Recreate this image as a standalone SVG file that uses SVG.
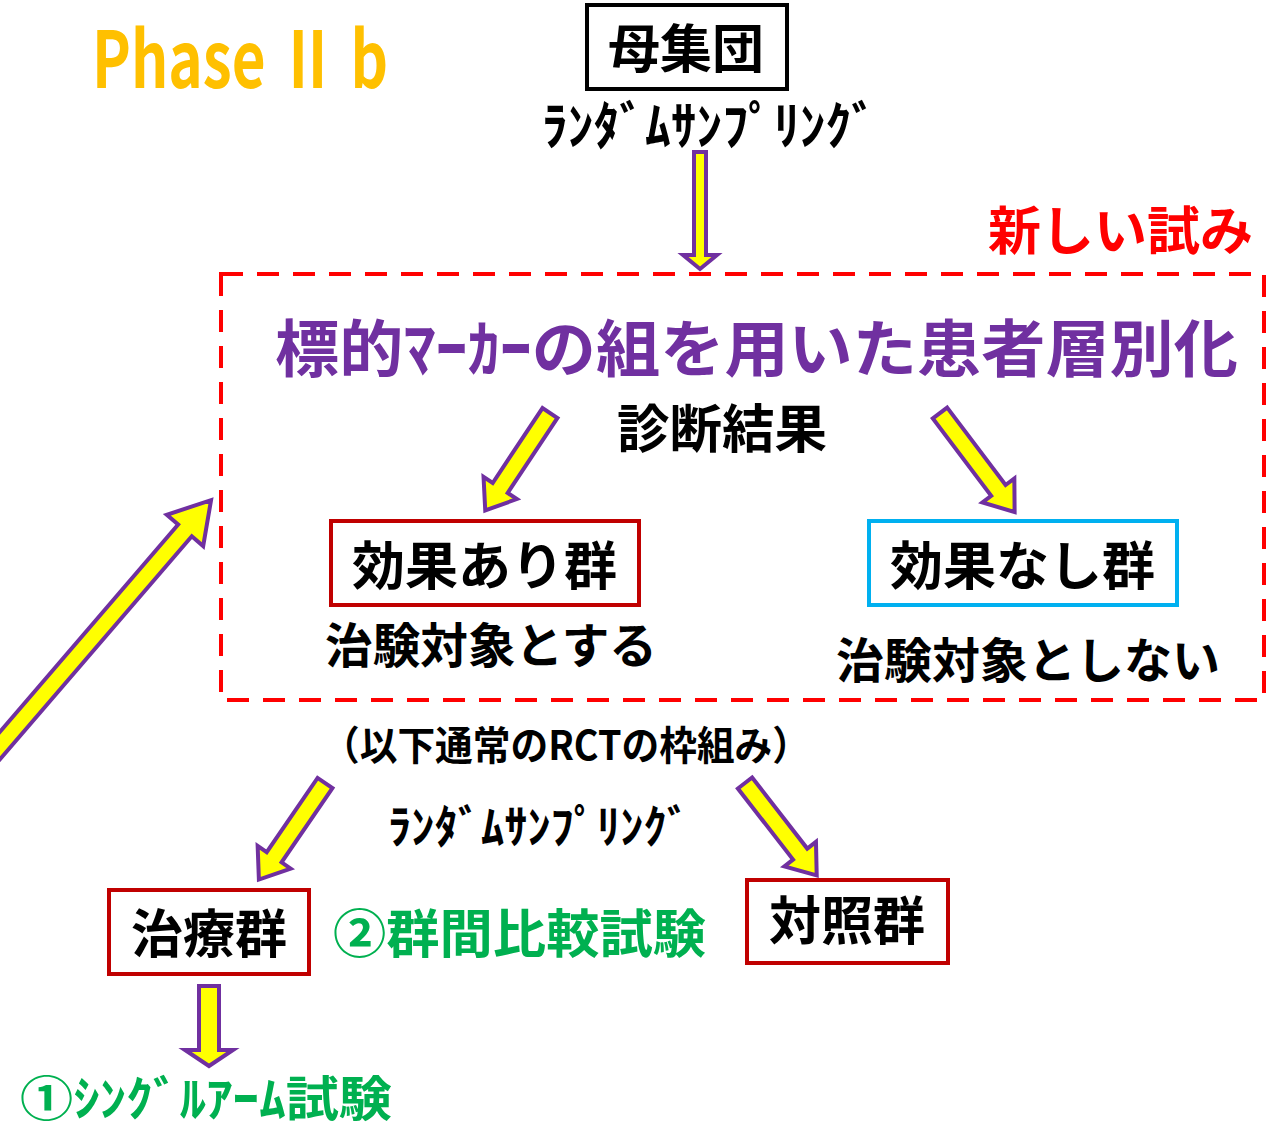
<svg xmlns="http://www.w3.org/2000/svg" width="1286" height="1130" viewBox="0 0 1286 1130">
<style>
.t{font-family:"Noto Sans CJK JP","Liberation Sans",sans-serif;font-weight:700}
.blk{fill:#000}
.box{fill:#fff;stroke-width:4}
.arr{fill:#ffff00;stroke:#7030a0;stroke-width:4;stroke-linejoin:miter}
</style>
<rect width="1286" height="1130" fill="#fff"/>
<g id="phase"><text x="92" y="88" font-family="'Noto Sans CJK JP','Liberation Sans',sans-serif" font-weight="700" font-size="78" fill="#ffc000" textLength="296" lengthAdjust="spacingAndGlyphs">Phase Ⅱ b</text></g>
<g id="frame">
<rect x="221" y="274" width="1043" height="426" fill="none" stroke="#ff0000" stroke-width="4" stroke-dasharray="22,14"/>
</g>
<g id="new-trial"><text class="t" x="988" y="250" font-size="52" fill="#ff0000" textLength="265" lengthAdjust="spacingAndGlyphs">新しい試み</text></g>
<g id="population">
<rect class="box" x="587" y="5" width="200" height="84" stroke="#000"/>
<text class="t blk" x="686" y="68" font-size="52" text-anchor="middle">母集団</text>
</g>
<g id="sampling1"><text class="t blk" x="542" y="145" font-size="52" textLength="335" lengthAdjust="spacingAndGlyphs">ﾗﾝﾀﾞﾑｻﾝﾌﾟﾘﾝｸﾞ</text></g>
<g id="title"><text class="t" x="275" y="372" font-size="62" fill="#7030a0" textLength="963" lengthAdjust="spacingAndGlyphs">標的ﾏｰｶｰの組を用いた患者層別化</text></g>
<g id="diagnosis"><text class="t blk" x="617" y="448" font-size="52" textLength="210" lengthAdjust="spacingAndGlyphs">診断結果</text></g>
<g id="effective">
<rect class="box" x="331" y="521" width="308" height="84" stroke="#c00000"/>
<text class="t blk" x="352" y="585" font-size="52" textLength="265" lengthAdjust="spacingAndGlyphs">効果あり群</text>
<text class="t blk" x="325" y="663" font-size="48" textLength="332" lengthAdjust="spacingAndGlyphs">治験対象とする</text>
</g>
<g id="ineffective">
<rect class="box" x="869" y="521" width="308" height="84" stroke="#00b0f0"/>
<text class="t blk" x="890" y="585" font-size="52" textLength="265" lengthAdjust="spacingAndGlyphs">効果なし群</text>
<text class="t blk" x="836" y="678" font-size="48" textLength="384" lengthAdjust="spacingAndGlyphs">治験対象としない</text>
</g>
<g id="rct"><text class="t blk" x="322" y="760" font-size="40" textLength="488" lengthAdjust="spacingAndGlyphs">（以下通常のRCTの枠組み）</text></g>
<g id="sampling2"><text class="t blk" x="388" y="843" font-size="46" textLength="302" lengthAdjust="spacingAndGlyphs">ﾗﾝﾀﾞﾑｻﾝﾌﾟﾘﾝｸﾞ</text></g>
<g id="treatment">
<rect class="box" x="109" y="890" width="200" height="84" stroke="#c00000"/>
<text class="t blk" x="209" y="953" font-size="52" text-anchor="middle">治療群</text>
</g>
<g id="between"><text class="t" x="333" y="953" font-size="52" fill="#00b050" textLength="373" lengthAdjust="spacingAndGlyphs">②群間比較試験</text></g>
<g id="control">
<rect class="box" x="747" y="880" width="201" height="83" stroke="#c00000"/>
<text class="t blk" x="847" y="940" font-size="52" text-anchor="middle">対照群</text>
</g>
<g id="single"><text class="t" x="20" y="1116" font-size="48" fill="#00b050" textLength="372" lengthAdjust="spacingAndGlyphs">①ｼﾝｸﾞﾙｱｰﾑ試験</text></g>
<g id="connectors">
<path class="arr" transform="translate(700,152) rotate(90)" d="M0,-6 L103,-6 L103,-17 L117,0 L103,17 L103,6 L0,6 Z"/>
<path class="arr" transform="translate(550,413) rotate(123.6)" d="M0,-9 L90,-9 L90,-20 L117,0 L90,20 L90,9 L0,9 Z"/>
<path class="arr" transform="translate(940,413) rotate(53)" d="M0,-9 L97,-9 L97,-20 L124,0 L97,20 L97,9 L0,9 Z"/>
<path class="arr" transform="translate(325,783) rotate(124.4)" d="M0,-9 L90,-9 L90,-20 L117,0 L90,20 L90,9 L0,9 Z"/>
<path class="arr" transform="translate(745,783) rotate(52.2)" d="M0,-9 L90,-9 L90,-20 L117,0 L90,20 L90,9 L0,9 Z"/>
<path class="arr" transform="translate(-40,792) rotate(-49.3)" d="M0,-9 L345,-9 L345,-24 L385,0 L345,24 L345,9 L0,9 Z"/>
<path class="arr" transform="translate(209,986) rotate(90)" d="M0,-10 L64,-10 L64,-24 L80,0 L64,24 L64,10 L0,10 Z"/>
</g>
</svg>
